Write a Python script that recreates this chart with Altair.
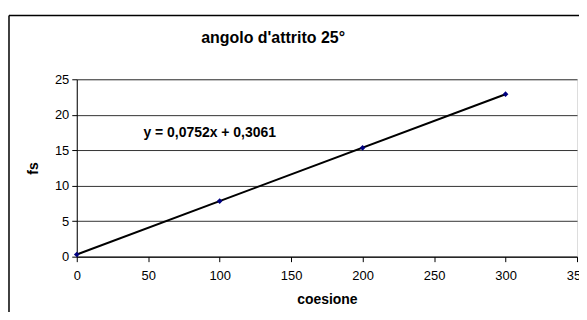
import altair as alt
import pandas as pd

coesione = [0, 100, 200, 300]
fs = [0.31, 7.83, 15.34, 22.9]
title_text = "angolo d'attrito 25°"
equation = "y = 0,0752x + 0,3061"
x_ticks = [0, 50, 100, 150, 200, 250, 300, 350]
y_ticks = [0, 5, 10, 15, 20, 25]

df = pd.DataFrame({"coesione": coesione, "fs": fs})
FONT = "Liberation Sans"

xs = alt.Scale(domain=[0, 350], nice=False, zero=False)
ys = alt.Scale(domain=[0, 25], nice=False)

x_axis = alt.Axis(values=x_ticks, title="coesione", grid=False,
                  domainColor="black", tickColor="black", tickSize=5,
                  labelFontSize=13, labelPadding=8, labelColor="black",
                  titleFontSize=14, titleFontWeight="bold", titlePadding=10,
                  titleColor="black", labelFont=FONT, titleFont=FONT,
                  labelOverlap=False, labelFlush=False)
y_axis = alt.Axis(values=y_ticks, title="fs", grid=True, gridColor="#333",
                  gridOpacity=1, domainColor="black", tickColor="black",
                  tickSize=5, labelFontSize=13, labelPadding=3,
                  labelColor="black", titleFontSize=14,
                  titleFontWeight="bold", titlePadding=14,
                  titleColor="black", labelFont=FONT, titleFont=FONT,
                  labelOverlap=False, labelFlush=False)

base = alt.Chart(df)

trend = base.transform_regression("coesione", "fs").mark_line(
    color="black", strokeWidth=2
).encode(
    x=alt.X("coesione:Q", scale=xs, axis=x_axis),
    y=alt.Y("fs:Q", scale=ys, axis=y_axis),
)

points = base.mark_point(shape="diamond", filled=True, color="#000080", size=32, opacity=1).encode(
    x=alt.X("coesione:Q", scale=xs, axis=x_axis),
    y=alt.Y("fs:Q", scale=ys, axis=y_axis),
)

eq = alt.Chart(pd.DataFrame({"t": [equation], "x": [93], "y": [17.4]})).mark_text(
    font=FONT, fontSize=14, fontWeight="bold", color="black"
).encode(x=alt.X("x:Q", scale=xs, axis=x_axis), y=alt.Y("y:Q", scale=ys, axis=y_axis), text="t:N")

title = alt.Chart(pd.DataFrame({"t": [title_text]})).mark_text(
    font=FONT, fontSize=16, fontWeight="bold", color="black", baseline="middle"
).encode(x=alt.value(197), y=alt.value(-41), text="t:N")

border_left = alt.Chart(pd.DataFrame({"a": [0]})).mark_rule(color="black", strokeWidth=1.5).encode(
    x=alt.value(-68), y=alt.value(-64), y2=alt.value(260)
)
border_top = alt.Chart(pd.DataFrame({"a": [0]})).mark_rule(color="black", strokeWidth=1.5).encode(
    x=alt.value(-68), x2=alt.value(530), y=alt.value(-64)
)

chart = alt.layer(border_left, border_top, trend, points, eq, title).properties(
    width=502, height=178,
    autosize=alt.AutoSizeParams(type="none"),
    padding={"left": 69, "top": 71, "right": 2, "bottom": 55},
).configure_view(stroke="#444", strokeWidth=1).configure(background="white")

chart.save("out.html", embed_options={"renderer": "svg", "actions": False})
